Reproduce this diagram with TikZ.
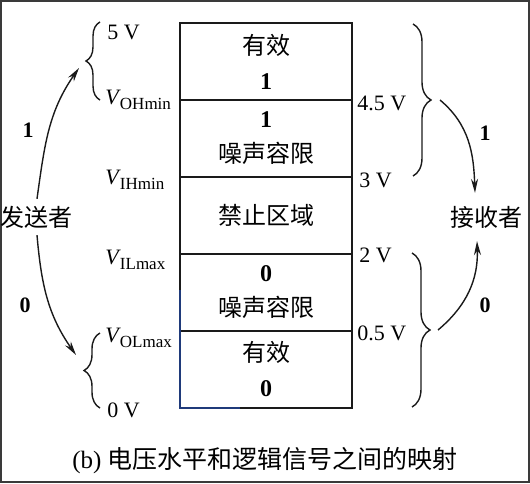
\documentclass[tikz,border=0pt]{standalone}
\usepackage{fontspec}
\setmainfont{Liberation Serif}
\newfontfamily\cjk{Noto Sans CJK SC}
\usetikzlibrary{positioning,arrows.meta,decorations.pathreplacing}
\definecolor{ink}{HTML}{1A1A1A}
\definecolor{inkblue}{HTML}{1F3A7A}
\definecolor{frame}{HTML}{3A3A3A}
\newcommand{\vlev}[1]{\textit{V}\kern-0.5pt\raisebox{-0.55ex}{\fontsize{8.5}{8.5}\selectfont #1}}
\tikzset{
  cell/.style={draw=ink, line width=1pt, minimum width=86pt, minimum height=38.5pt,
    inner sep=0pt, outer sep=0pt, align=center, font=\fontsize{12}{17.5}\selectfont},
  lev/.style={anchor=west, inner sep=0pt, font=\fontsize{11}{11}\selectfont},
  brc/.style={draw=ink, line width=0.7pt, decorate, decoration={brace, amplitude=#1}},
  flow/.style={draw=ink, line width=0.7pt, -{Stealth[length=7pt,width=3.5pt]}},
  bit/.style={font=\fontsize{11}{11}\selectfont\bfseries},
  who/.style={font=\fontsize{12}{12}\selectfont\cjk},
}

\begin{document}
\begin{tikzpicture}[x=0.5pt, y=0.5pt]
  \useasboundingbox (0,0) rectangle (530,483);
  \draw[frame, line width=1.2pt] (1,1) rectangle (529,482);

  % the voltage column, top to bottom
  \node[cell] (r1) at (266,421.5) {{\cjk 有效}\\\textbf{1}};
  \node[cell, below=0pt of r1] (r2) {\textbf{1}\\{\cjk 噪声容限}};
  \node[cell, below=0pt of r2] (r3) {\cjk 禁止区域};
  \node[cell, below=0pt of r3] (r4) {\textbf{0}\\{\cjk 噪声容限}};
  \node[cell, below=0pt of r4] (r5) {{\cjk 有效}\\\textbf{0}};
  \draw[inkblue, line width=1pt] ([yshift=-18pt]r4.north west) -- (r5.south west)
    -- ([xshift=30pt]r5.south west);

  % sender side levels
  \node[lev] (v5) at (107,451) {5 V};
  \node[lev] (voh) at (105,383) {\vlev{OHmin}};
  \node[lev] (vih) at (105,303) {\vlev{IHmin}};
  \node[lev] (vil) at (105,223) {\vlev{ILmax}};
  \node[lev] (vol) at (105,145) {\vlev{OLmax}};
  \node[lev] (v0) at (107,73) {0 V};

  % receiver side levels
  \node[lev] (r45) at (357,380) {4.5 V};
  \node[lev] (r30) at (359,303) {3 V};
  \node[lev] (r20) at (359,228) {2 V};
  \node[lev] (r05) at (357,150) {0.5 V};

  % braces
  \draw[brc=7pt] (100,383) -- (100,461);
  \draw[brc=8pt] (100,75) -- (100,150);
  \draw[brc=9pt] (413,459) -- (413,307);
  \draw[brc=9pt] (412,230) -- (412,76);

  \coordinate (aL1) at (79,415);
  \coordinate (aL0) at (76,128);
  \coordinate (aR1) at (440,383);
  \coordinate (aR0) at (438,153);

  \node[who] (send) at (37,266) {发送者};
  \node[who] (recv) at (486,266) {接收者};

  \draw[flow] (send.north) to[out=82, in=235] (aL1);
  \draw[flow] (send.south) to[out=-85, in=125] (aL0);
  \draw[flow] (aR1) to[out=-40, in=92] ([xshift=-5.5pt, yshift=3pt]recv.north);
  \draw[flow] (aR0) to[out=40, in=-88] ([xshift=-4.5pt, yshift=-3pt]recv.south);

  \node[bit] (s1) at (28,353) {1};
  \node[bit] (s0) at (25,178) {0};
  \node[bit] (t1) at (485,350) {1};
  \node[bit] (t0) at (485,178) {0};

  \node[font=\fontsize{12.5}{12.5}\selectfont] (cap) at (265,22) {(b) {\cjk 电压水平和逻辑信号之间的映射}};
\end{tikzpicture}
\end{document}
